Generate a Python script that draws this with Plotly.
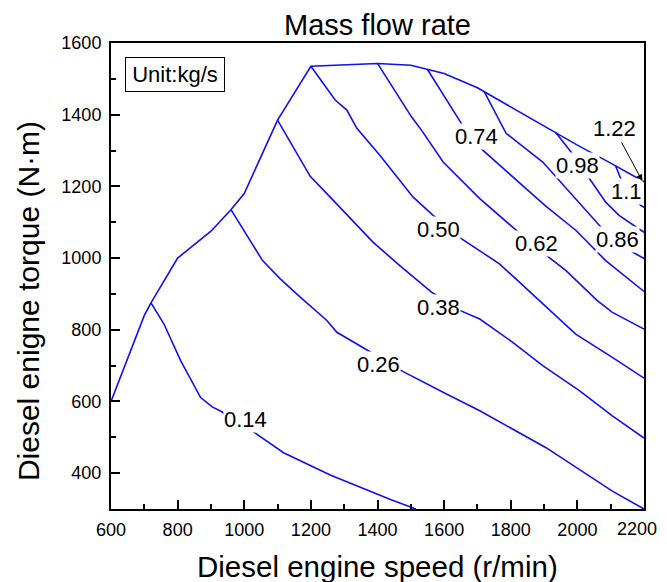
import plotly.graph_objects as go

# ---- data ----
env_x = [600, 700, 720, 800, 900, 960, 1000, 1100, 1200, 1300, 1400, 1500, 1600, 1700, 1800, 1900, 2000, 2100, 2200]
env_y = [600, 840, 875, 1000, 1075, 1135, 1180, 1385, 1535, 1538, 1543, 1538, 1515, 1475, 1422, 1368, 1315, 1265, 1213]

c014_x = [720, 759, 809, 869, 904, 931, 1031, 1118, 1258, 1437, 1515]
c014_y = [875, 816, 714, 611, 585, 572, 513, 457, 395, 327, 300]

c026_x = [960, 1055, 1108, 1168, 1248, 1278, 1375, 1467, 1607, 1707, 1906, 2105, 2200]
c026_y = [1135, 993, 942, 891, 826, 793, 740, 688, 621, 574, 471, 350, 300]

c038_x = [1100, 1198, 1258, 1318, 1387, 1467, 1562, 1647, 1707, 1806, 1896, 2006, 2105, 2200]
c038_y = [1385, 1228, 1170, 1110, 1044, 979, 905, 854, 830, 765, 700, 630, 560, 498]

c050_x = [1200, 1273, 1308, 1338, 1407, 1507, 1567, 1647, 1766, 1886, 1995, 2105, 2200]
c050_y = [1535, 1441, 1413, 1362, 1287, 1170, 1119, 1057, 984, 881, 788, 723, 665]

c062_x = [1400, 1502, 1532, 1597, 1707, 1811, 1911, 1966, 2059, 2104, 2200]
c062_y = [1543, 1394, 1357, 1268, 1166, 1082, 1005, 965, 882, 849, 802]

c074_x = [1550, 1592, 1652, 1716, 1816, 1906, 1996, 2085, 2200]
c074_y = [1526, 1464, 1375, 1301, 1217, 1144, 1077, 993, 907]

c086_x = [1720, 1786, 1896, 1986, 2071, 2165, 2200]
c086_y = [1465, 1348, 1268, 1175, 1086, 1017, 999]

c098_x = [1935, 1981, 2036, 2085, 2125, 2200]
c098_y = [1350, 1296, 1222, 1156, 1119, 1072]

c110_x = [2115, 2130, 2190, 2200]
c110_y = [1257, 1222, 1147, 1142]

label_text = ["0.14", "0.26", "0.38", "0.50", "0.62", "0.74", "0.86", "0.98", "1.1"]
label_x = [1003, 1404, 1584, 1583, 1877, 1697, 2120, 1999, 2146]
label_y = [549, 703, 863, 1080, 1041, 1339, 1052, 1259, 1185]

arrow_label = "1.22"
arrow_text_xy = (2110, 1362)
arrow_tip_xy = (2195, 1215)

x_tick_vals = [600, 800, 1000, 1200, 1400, 1600, 1800, 2000, 2200]
x_tick_text = ["600", "800", "1000", "1200", "1400", "1600", "1800", "2000", ""]
last_x_tick_label = "2200"   # drawn as a right-aligned text so it stays inside the page

# ---- figure ----
BLUE = "#1010f0"
FONT = "Liberation Sans, Arial, sans-serif"

fig = go.Figure()
lines = [(env_x, env_y), (c014_x, c014_y), (c026_x, c026_y), (c038_x, c038_y),
         (c050_x, c050_y), (c062_x, c062_y), (c074_x, c074_y), (c086_x, c086_y),
         (c098_x, c098_y), (c110_x, c110_y)]
for xs, ys in lines:
    fig.add_trace(go.Scatter(x=xs, y=ys, mode="lines",
                             line=dict(color=BLUE, width=1.6),
                             showlegend=False, hoverinfo="skip"))

for t, x, y in zip(label_text, label_x, label_y):
    fig.add_annotation(x=x, y=y, text=t, showarrow=False, bgcolor="white",
                       borderpad=0, font=dict(family=FONT, size=22, color="black"))

fig.add_annotation(x=arrow_tip_xy[0], y=arrow_tip_xy[1], ax=arrow_text_xy[0], ay=arrow_text_xy[1],
                   axref="x", ayref="y", text=arrow_label, showarrow=True,
                   arrowhead=2, arrowsize=1.3, arrowwidth=1, arrowcolor="black", standoff=0,
                   font=dict(family=FONT, size=22, color="black"))

fig.add_annotation(x=792, y=1513, text="Unit:kg/s", showarrow=False,
                   bordercolor="black", borderwidth=1, borderpad=1, width=96, height=31,
                   bgcolor="white", font=dict(family=FONT, size=22, color="black"))

fig.add_annotation(xref="paper", yref="paper", x=1.026, y=-0.0429, text=last_x_tick_label,
                   showarrow=False, xanchor="right", yanchor="middle", borderpad=0,
                   font=dict(family=FONT, size=18, color="black"))

fig.add_annotation(xref="paper", yref="paper", x=0.5, y=-0.124, text="Diesel engine speed (r/min)",
                   showarrow=False, font=dict(family=FONT, size=29.5, color="black"),
                   xanchor="center", yanchor="middle")
fig.add_annotation(xref="paper", yref="paper", x=-0.155, y=0.447, text="Diesel enigne torque (N·m)",
                   showarrow=False, textangle=-90, font=dict(family=FONT, size=30, color="black"),
                   xanchor="center", yanchor="middle")

axis_common = dict(showline=True, linewidth=2, linecolor="black", mirror=True,
                   showgrid=False, zeroline=False, ticks="inside", ticklen=9,
                   tickwidth=1.5, tickcolor="black",
                   tickfont=dict(family=FONT, size=18, color="black"))

fig.update_xaxes(range=[600, 2200], tickmode="array", tickvals=x_tick_vals, ticktext=x_tick_text,
                 minor=dict(ticks="inside", ticklen=5, dtick=100, tick0=600, tickwidth=1.5, tickcolor="black"),
                 ticklabelstandoff=3, **axis_common)
fig.update_yaxes(range=[300, 1600], dtick=200, tick0=400,
                 minor=dict(ticks="inside", ticklen=5, dtick=100, tickwidth=1.5, tickcolor="black"),
                 ticklabelstandoff=4, **axis_common)

# the page body has an 8px margin; keep the figure inside the 667px-wide window
fig.update_layout(
    width=651, height=574,
    margin=dict(l=103, r=15, t=35, b=73),
    paper_bgcolor="white", plot_bgcolor="white",
    title=dict(text="Mass flow rate", x=0.5, xref="paper", y=1 - 17 / 574, yanchor="middle",
               font=dict(family=FONT, size=29, color="black")),
)

fig.write_html("out.html", config={"displayModeBar": False})
